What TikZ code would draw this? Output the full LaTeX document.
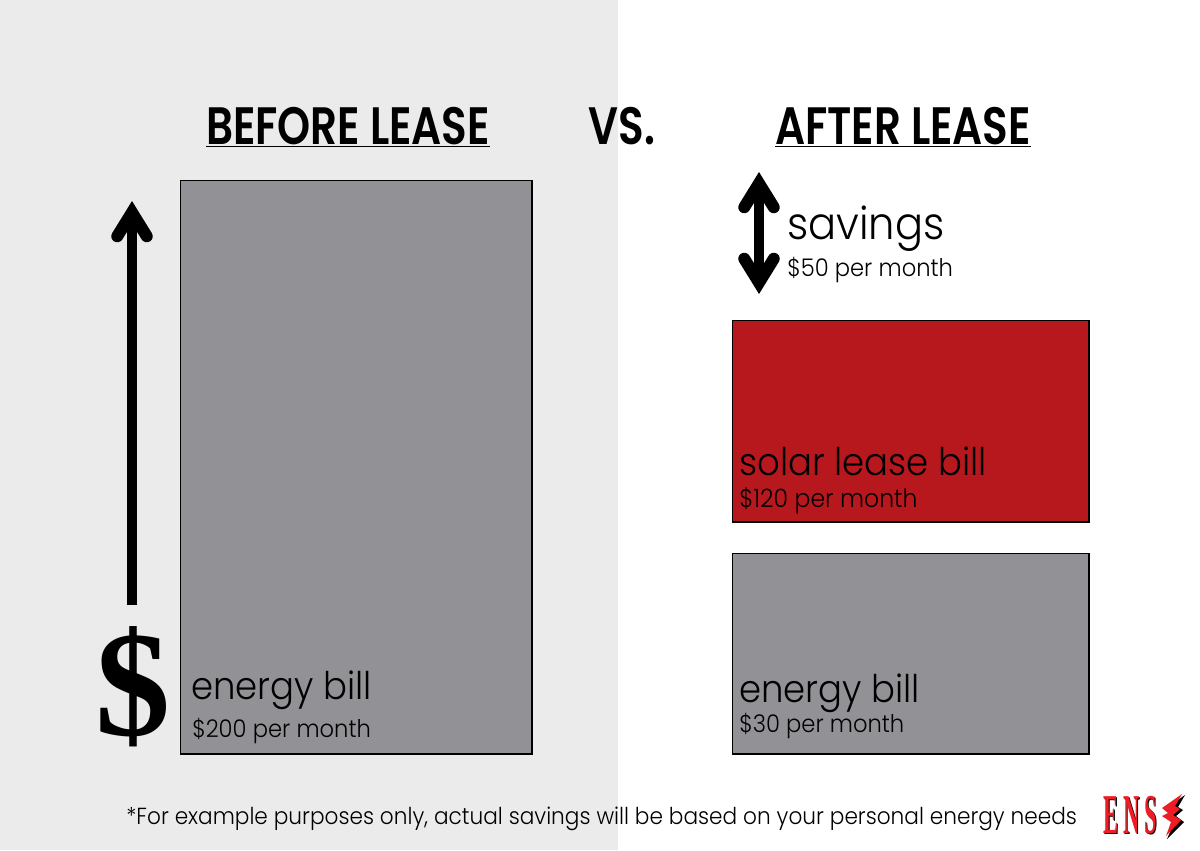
\documentclass[tikz,border=0pt]{standalone}
\usepackage{fontspec}
\setmainfont[FakeStretch=0.93]{Poppins Light}
\newfontfamily\headfont[FakeStretch=0.8]{Poppins SemiBold}
\newfontfamily\dollarfont{Liberation Serif Bold}
\newfontfamily\logofont[FakeStretch=0.4,LetterSpace=9]{Liberation Serif Bold}
\usetikzlibrary{arrows.meta}
\definecolor{leftbg}{HTML}{EBEBEB}
\definecolor{billgray}{HTML}{929195}
\definecolor{billred}{HTML}{B7181E}
\definecolor{logored}{HTML}{EE1C25}
\tikzset{
  billbox/.style={draw=black, line width=1.4pt, inner sep=0pt, anchor=north west},
  headline/.style={anchor=base, font=\headfont\fontsize{37.4}{37}\selectfont},
  biglabel/.style={anchor=base west, inner sep=0pt, font=\fontsize{27.1}{27}\selectfont},
  smalllabel/.style={anchor=base west, inner sep=0pt, font=\fontsize{17.3}{18}\selectfont},
  barbtip/.tip={Straight Barb[length=17pt, width=21pt, line width=8.5pt, line cap=round]},
}
\begin{document}
\begin{tikzpicture}[x=0.025cm, y=-0.025cm]
  \useasboundingbox (0,0) rectangle (1200,850);
  \fill[white] (0,0) rectangle (1200,850);
  \fill[leftbg] (0,0) rectangle (618,850);
  % headings
  \node[headline] (before) at (348,144) {\underline{BEFORE LEASE}};
  \node[headline] (versus) at (622,144) {VS.};
  \node[headline] (after) at (903,144) {\underline{AFTER LEASE}};
  % bill boxes
  \node[billbox, fill=billgray, minimum width=351*0.7113pt, minimum height=573*0.7113pt] (oldbill) at (179.5,179.5) {};
  \node[billbox, fill=billred, minimum width=356*0.7113pt, minimum height=201*0.7113pt] (leasebill) at (731.5,319.5) {};
  \node[billbox, fill=billgray, minimum width=356*0.7113pt, minimum height=200*0.7113pt] (newbill) at (731.5,552.5) {};
  % labels
  \node[biglabel] (oldname) at (191,699) {energy bill};
  \node[smalllabel] (oldcost) at (192,737) {\$200 per month};
  \node[biglabel] (leasename) at (739,475) {solar lease bill};
  \node[smalllabel, font=\fontsize{18}{18}\selectfont] (leasecost) at (739,507) {\$120 per month};
  \node[biglabel] (newname) at (739,702) {energy bill};
  \node[smalllabel] (newcost) at (739,732) {\$30 per month};
  \node[biglabel, font=\fontsize{31.8}{31}\selectfont] (savename) at (787,239) {savings};
  \node[smalllabel] (savecost) at (787,276) {\$50 per month};
  % arrows
  \node[inner sep=0pt, font=\dollarfont\fontsize{107}{107}\selectfont] (dollar) at (133.5,687) {\$};
  \coordinate (risetop) at (132,201);
  \coordinate (risefoot) at (132,605);
  \coordinate (savetop) at (759,172);
  \coordinate (savefoot) at (759,294);
  \draw[line width=7.5pt, -{barbtip}] (risefoot) -- (risetop);
  \draw[line width=7.5pt, {barbtip}-{barbtip}] (savefoot) -- (savetop);
  % footnote
  \node[inner sep=0pt, anchor=base west, font=\fontsize{16.55}{18}\selectfont] (note) at (126,824) {*For example purposes only, actual savings will be based on your personal energy needs};
  % logo
  \node[inner sep=0pt, anchor=base west, text=black, font=\logofont\fontsize{40}{40}\selectfont] (logoshade) at (1104,834) {ENS};
  \node[inner sep=0pt, anchor=base west, text=logored, font=\logofont\fontsize{40}{40}\selectfont] (logo) at (1103,833) {ENS};
  \fill[black] (1185,795) -- (1166,808) -- (1171,813) -- (1165,816) -- (1174,823) -- (1167,839) -- (1184,822) -- (1176,816) -- (1183,810) -- (1178,807) -- cycle;
  \fill[logored] (1182,794) -- (1162,808) -- (1168,813) -- (1162,816) -- (1171,822) -- (1166,836) -- (1181,820) -- (1173,815) -- (1180,809) -- (1175,806) -- cycle;
\end{tikzpicture}
\end{document}
